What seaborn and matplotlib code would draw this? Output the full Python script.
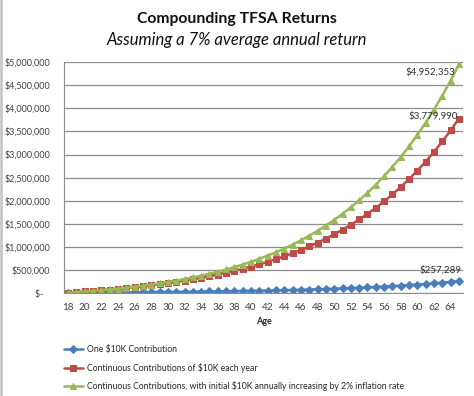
import matplotlib
matplotlib.use("Agg")
import matplotlib.pyplot as plt
import matplotlib.ticker as mticker
import seaborn as sns
import pandas as pd

ages = list(range(18, 66))
one_contribution = [10700, 11449, 12250, 13108, 14026, 15007, 16058, 17182, 18385, 19672,
                    21049, 22522, 24098, 25785, 27590, 29522, 31588, 33799, 36165, 38697,
                    41406, 44304, 47405, 50724, 54274, 58074, 62139, 66488, 71143, 76123,
                    81451, 87153, 93253, 99781, 106766, 114239, 122236, 130793, 139948, 149745,
                    160227, 171443, 183444, 196285, 210025, 224726, 240457, 257289]
continuous_10k = [10700, 22149, 34399, 47507, 61533, 76540, 92598, 109780, 128164, 147836,
                  168885, 191406, 215505, 241290, 268881, 298402, 329990, 363790, 399955, 438652,
                  480058, 524361, 571767, 622490, 676765, 734838, 796977, 863466, 934608, 1010730,
                  1092181, 1179334, 1272587, 1372369, 1479134, 1593374, 1715610, 1846403, 1986351, 2136096,
                  2296322, 2467765, 2651208, 2847493, 3057518, 3282243, 3522701, 3779990]
continuous_inflation = [10700, 22363, 35061, 48870, 63873, 80158, 97818, 116957, 137680, 160106,
                        184356, 210565, 238875, 269438, 302417, 337987, 376335, 417661, 462179, 510120,
                        561728, 617266, 677017, 741281, 810381, 884662, 964494, 1050272, 1142420, 1241391,
                        1347670, 1461776, 1584265, 1715732, 1856812, 2008188, 2170588, 2344792, 2531636, 2732013,
                        2946881, 3177261, 3424250, 3689019, 3972824, 4277007, 4603004, 4952353]
series_names = ["One $10K Contribution",
                "Continuous Contributions of $10K each year",
                "Continuous Contributions, with initial $10K annually increasing by 2% inflation rate"]
x_ticks = list(range(18, 65, 2))
y_ticks = [0, 500000, 1000000, 1500000, 2000000, 2500000, 3000000, 3500000, 4000000, 4500000, 5000000]

colors = ["#4A7EBB", "#BE4B48", "#98B954"]
markers = ["D", "s", "^"]
msizes = [4.3, 4.4, 5.0]

sns.set_style("white")
plt.rcParams["font.family"] = ["Lato", "DejaVu Sans"]

fig = plt.figure(figsize=(4.74, 3.96), dpi=100)
ax = fig.add_axes([0.135, 0.260, 0.842, 0.583])

for vals, name, c, m, ms in zip([one_contribution, continuous_10k, continuous_inflation],
                                series_names, colors, markers, msizes):
    df = pd.DataFrame({"Age": ages, "Value": vals})
    sns.lineplot(data=df, x="Age", y="Value", ax=ax, color=c, marker=m, markersize=ms,
                 markeredgecolor=c, linewidth=1.8, label=name, legend=False)

ax.set_xlim(17.5, 65.5)
ax.set_ylim(0, 5000000)
ax.set_xticks(x_ticks)
ax.set_yticks(y_ticks)

def money(v, pos):
    if v == 0:
        return "$-   "
    return "${:,.0f}".format(v)

ax.yaxis.set_major_formatter(mticker.FuncFormatter(money))
ax.tick_params(axis="x", labelsize=7.2, colors="#404040", length=0, pad=7)
ax.tick_params(axis="y", labelsize=6.5, colors="#404040", length=0, pad=10)
ax.grid(axis="y", color="#8C8C8C", linewidth=0.9)
ax.set_axisbelow(True)
for s in ["top", "right"]:
    ax.spines[s].set_visible(False)
ax.spines["left"].set_color("#8C8C8C")
ax.spines["bottom"].set_color("#8C8C8C")
ax.set_ylabel("")
ax.set_xlabel("Age", fontsize=6.5, fontweight="bold", labelpad=4)

# data labels
ax.annotate("${:,.0f}".format(continuous_inflation[-1]), (ages[-1], continuous_inflation[-1]),
            xytext=(-3, -2), textcoords="offset points", ha="right", va="top", fontsize=7, color="#303030")
ax.annotate("${:,.0f}".format(continuous_10k[-1]), (ages[-1], continuous_10k[-1]),
            xytext=(-1, 2), textcoords="offset points", ha="right", va="center", fontsize=7, color="#303030")
ax.annotate("${:,.0f}".format(one_contribution[-1]), (ages[-1], one_contribution[-1]),
            xytext=(2, 5), textcoords="offset points", ha="right", va="bottom", fontsize=7, color="#303030")

fig.text(0.5, 0.953, "Compounding TFSA Returns", ha="center", va="center",
         fontsize=11.3, fontweight="bold", color="#101010")
fig.text(0.5, 0.898, "Assuming a 7% average annual return", ha="center", va="center",
         fontsize=12, style="italic", color="#101010")

handles, labels = ax.get_legend_handles_labels()
fig.legend(handles, labels, loc="upper left", bbox_to_anchor=(0.135, 0.129), frameon=False,
           fontsize=6.2, handlelength=2.2, handletextpad=0.5,
           labelspacing=1.0, borderpad=0, borderaxespad=0)

fig.add_artist(plt.Line2D([0.002, 0.002], [0, 1], color="#C8C8C8", linewidth=2, transform=fig.transFigure))

fig.savefig("out.png", dpi=100)
